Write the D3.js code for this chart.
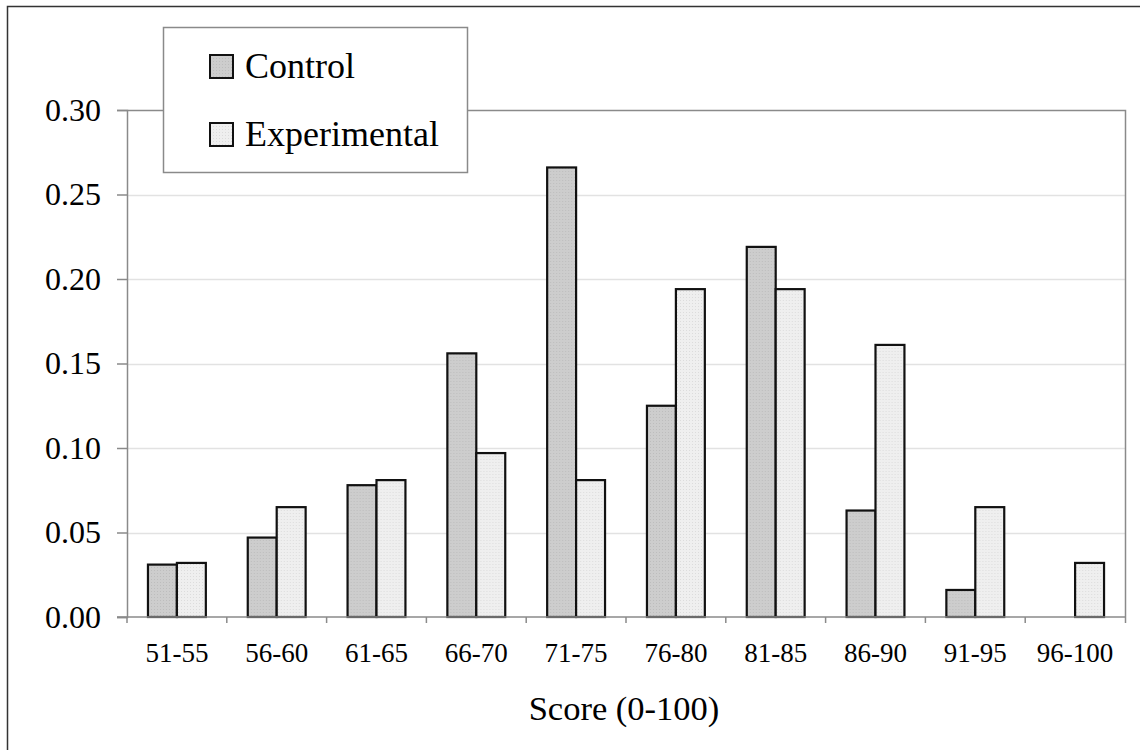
<!DOCTYPE html>
<html>
<head>
<meta charset="utf-8">
<script src="https://cdn.jsdelivr.net/npm/d3@7/dist/d3.min.js"></script>
<style>
  html, body { margin: 0; padding: 0; background: #fff; }
  svg { display: block; font-family: "Liberation Serif", "Times New Roman", serif; }
</style>
</head>
<body>
<div id="chart"></div>
<script>
const categories = ["51-55", "56-60", "61-65", "66-70", "71-75", "76-80", "81-85", "86-90", "91-95", "96-100"];
const seriesNames = ["Control", "Experimental"];
const control = [0.031, 0.047, 0.078, 0.156, 0.266, 0.125, 0.219, 0.063, 0.016, 0];
const experimental = [0.032, 0.065, 0.081, 0.097, 0.081, 0.194, 0.194, 0.161, 0.065, 0.032];
const yTicks = [0, 0.05, 0.10, 0.15, 0.20, 0.25, 0.30];

const width = 1140, height = 750;
const margin = {top: 110, right: 15, bottom: 133, left: 127};

let svg = d3.select("#chart").append("svg")
  .attr("width", width)
  .attr("height", height);

// dotted fills like the print original
let defs = svg.append("defs");
function dotPattern(id, base, dot) {
  let p = defs.append("pattern")
    .attr("id", id)
    .attr("width", 3).attr("height", 3)
    .attr("patternUnits", "userSpaceOnUse");
  p.append("rect").attr("width", 3).attr("height", 3).attr("fill", base);
  p.append("rect").attr("width", 1).attr("height", 1).attr("fill", dot);
}
dotPattern("pat-control", "#cdcdcd", "#bdbdbd");
dotPattern("pat-exp", "#efefef", "#dcdcdc");
const fills = {"Control": "url(#pat-control)", "Experimental": "url(#pat-exp)"};

// outer frame
svg.append("path")
  .attr("d", "M7.5," + height + "V6.5H" + width)
  .attr("fill", "none")
  .attr("stroke", "#333")
  .attr("stroke-width", 1.5);

let x0 = d3.scaleBand()
  .domain(categories)
  .range([margin.left, width - margin.right]);

let bw = x0.bandwidth();
let x1 = d3.scaleBand()
  .domain(seriesNames)
  .range([bw * 0.21, bw * 0.79]);

let y = d3.scaleLinear()
  .domain([0, 0.30])
  .range([height - margin.bottom, margin.top]);

let x0px = margin.left, x1px = width - margin.right;
let ybase = y(0);

// gridlines
svg.append("g")
  .selectAll("line")
  .data(yTicks.slice(1, -1))
  .enter().append("line")
  .attr("x1", x0px).attr("x2", x1px)
  .attr("y1", d => Math.round(y(d)) + 0.5)
  .attr("y2", d => Math.round(y(d)) + 0.5)
  .attr("stroke", "#e2e2e2")
  .attr("stroke-width", 1.5);

// plot area frame (top + right)
svg.append("path")
  .attr("d", "M" + x0px + "," + (y(0.30) + 0.5) + "H" + (x1px + 0.5) + "V" + (ybase + 6))
  .attr("fill", "none")
  .attr("stroke", "#8a8a8a")
  .attr("stroke-width", 1.5);

// bars
let rows = categories.map((c, i) => ({cat: c, values: [
  {key: "Control", value: control[i]},
  {key: "Experimental", value: experimental[i]}
]}));

let group = svg.append("g")
  .selectAll("g")
  .data(rows)
  .enter().append("g")
  .attr("transform", d => "translate(" + x0(d.cat) + ",0)");

group.selectAll("rect")
  .data(d => d.values.filter(v => v.value > 0))
  .enter().append("rect")
  .attr("x", d => x1(d.key))
  .attr("y", d => y(d.value))
  .attr("width", x1.bandwidth())
  .attr("height", d => ybase - y(d.value))
  .attr("fill", d => fills[d.key])
  .attr("stroke", "#111")
  .attr("stroke-width", 2.2);

// y axis
let yAxis = d3.axisLeft(y)
  .tickValues(yTicks)
  .tickFormat(d3.format(".2f"))
  .tickSize(10)
  .tickPadding(16);

let gy = svg.append("g")
  .attr("transform", "translate(" + x0px + ",0)")
  .call(yAxis);
gy.select(".domain").attr("stroke", "#8a8a8a").attr("stroke-width", 1.5);
gy.selectAll(".tick line").attr("stroke", "#8a8a8a").attr("stroke-width", 1.5);
gy.selectAll(".tick text")
  .attr("font-family", "Liberation Serif, serif")
  .attr("font-size", 32)
  .attr("fill", "#000");

// x axis
let gx = svg.append("g")
  .attr("transform", "translate(0," + ybase + ")");
gx.append("line")
  .attr("x1", x0px - 10).attr("x2", x1px)
  .attr("y1", 0).attr("y2", 0)
  .attr("stroke", "#8a8a8a").attr("stroke-width", 1.5);
gx.selectAll(".xtick")
  .data(categories)
  .enter().append("line")
  .attr("class", "xtick")
  .attr("x1", d => x0(d)).attr("x2", d => x0(d))
  .attr("y1", 0).attr("y2", 6)
  .attr("stroke", "#8a8a8a").attr("stroke-width", 1.5);
gx.selectAll(".xlabel")
  .data(categories)
  .enter().append("text")
  .attr("class", "xlabel")
  .attr("x", d => x0(d) + bw / 2)
  .attr("y", 45)
  .attr("text-anchor", "middle")
  .attr("font-size", 27)
  .text(d => d);

svg.append("text")
  .attr("x", (x0px + x1px) / 2 - 2)
  .attr("y", 720)
  .attr("text-anchor", "middle")
  .attr("font-size", 34.5)
  .text("Score (0-100)");

// legend
let legend = svg.append("g").attr("transform", "translate(163,27)");
legend.append("rect")
  .attr("x", 0.5).attr("y", 0.5)
  .attr("width", 304).attr("height", 145)
  .attr("fill", "#fff")
  .attr("stroke", "#8a8a8a")
  .attr("stroke-width", 1.5);

let item = legend.selectAll(".item")
  .data(seriesNames)
  .enter().append("g")
  .attr("class", "item")
  .attr("transform", (d, i) => "translate(47," + (28 + i * 68) + ")");
item.append("rect")
  .attr("width", 23).attr("height", 23)
  .attr("fill", d => fills[d])
  .attr("stroke", "#111")
  .attr("stroke-width", 2);
item.append("text")
  .attr("x", 35)
  .attr("y", 23)
  .attr("font-size", 36)
  .text(d => d);
</script>
</body>
</html>
